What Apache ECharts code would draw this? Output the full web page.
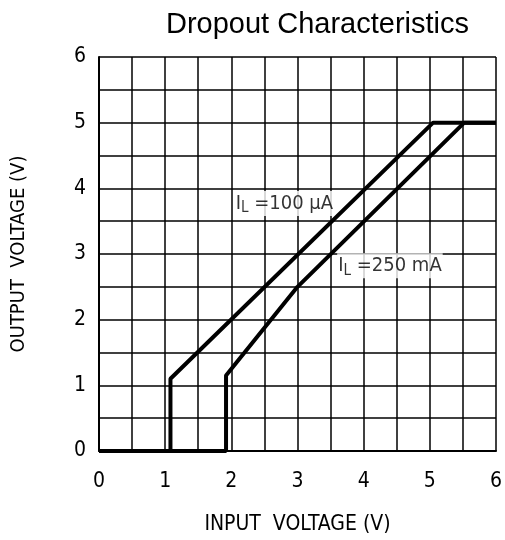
<!DOCTYPE html>
<html><head><meta charset="utf-8">
<script src="https://cdn.jsdelivr.net/npm/echarts@6/dist/echarts.min.js"></script>
<style>html,body{margin:0;padding:0;background:#fff}#c{width:505px;height:540px}</style>
</head><body><div id="c"></div>
<script>
var lowLoadX = [0, 1.08, 1.08, 5.05, 6];
var lowLoadY = [0, 0, 1.1, 5, 5];
var highLoadX = [0, 1.92, 1.92, 3.0, 5.52, 6];
var highLoadY = [0, 0, 1.15, 2.5, 5, 5];
var labelPos = [[2.05, 3.77], [3.6, 2.82]];
var labelText = ['100 μA', '250 mA'];
var xTicks = [0, 1, 2, 3, 4, 5, 6];
var yTicks = [0, 1, 2, 3, 4, 5, 6];

var FONT = "'Liberation Sans Narrow','DejaVu Sans Condensed',sans-serif";
function pairs(xs, ys){ return xs.map(function(x,i){return [x, ys[i]];}); }
function mkLabel(ticks){ return function(v){ var r = Math.round(v); return (Math.abs(v - r) < 1e-6 && ticks.indexOf(r) >= 0) ? String(r) : ''; }; }

var chart = echarts.init(document.getElementById('c'));
var rich = {
  i: {fontFamily: FONT, fontSize: 20, color: '#000'},
  s: {fontFamily: FONT, fontSize: 15, color: '#000', verticalAlign: 'bottom', padding: [10,0,0,0]},
  t: {fontFamily: FONT, fontSize: 20, color: '#000'}
};
chart.setOption({
  animation: false,
  title: {text: 'Dropout Characteristics', left: 161, top: 5,
    textStyle: {fontFamily: "'Liberation Sans',Arial,sans-serif", fontSize: 29, fontWeight: 'normal', color: '#000'}},
  grid: {left: 99, right: 7, top: 57, bottom: 87},
  xAxis: {type: 'value', min: 0, max: 6, interval: 0.5,
    name: 'INPUT  VOLTAGE (V)', nameLocation: 'middle', nameGap: 63,
    nameTextStyle: {fontFamily: FONT, fontSize: 21, color: '#000'},
    axisLine: {show: true, lineStyle: {color: '#000', width: 2}},
    axisTick: {show: false},
    axisLabel: {formatter: mkLabel(xTicks), margin: 20, fontFamily: FONT, fontSize: 21, color: '#000', showMinLabel: true, showMaxLabel: true},
    splitLine: {show: true, lineStyle: {color: '#000', width: 1.5}}
  },
  yAxis: {type: 'value', min: 0, max: 6, interval: 0.5,
    name: 'OUTPUT  VOLTAGE (V)', nameLocation: 'middle', nameGap: 70, nameRotate: 90,
    nameTextStyle: {fontFamily: FONT, fontSize: 20, color: '#000'},
    axisLine: {show: true, lineStyle: {color: '#000', width: 2}},
    axisTick: {show: false},
    axisLabel: {formatter: mkLabel(yTicks), margin: 13, fontFamily: FONT, fontSize: 21, color: '#000'},
    splitLine: {show: true, lineStyle: {color: '#000', width: 1.5}}
  },
  series: [
    {type: 'line', data: pairs(lowLoadX, lowLoadY), symbol: 'none', lineStyle: {color: '#000', width: 4}, z: 3},
    {type: 'line', data: pairs(highLoadX, highLoadY), symbol: 'none', lineStyle: {color: '#000', width: 4}, z: 3},
    {type: 'scatter', symbolSize: 0, z: 5,
      data: labelPos.map(function(p, i){ return {value: p, name: labelText[i]}; }),
      label: {show: true, position: 'right', distance: 0, backgroundColor: '#fff', padding: [0,1,0,1],
        formatter: function(p){ return '{i|I}{s|L}{t| =' + p.name + '}'; }, rich: rich}
    }
  ]
});
</script></body></html>
